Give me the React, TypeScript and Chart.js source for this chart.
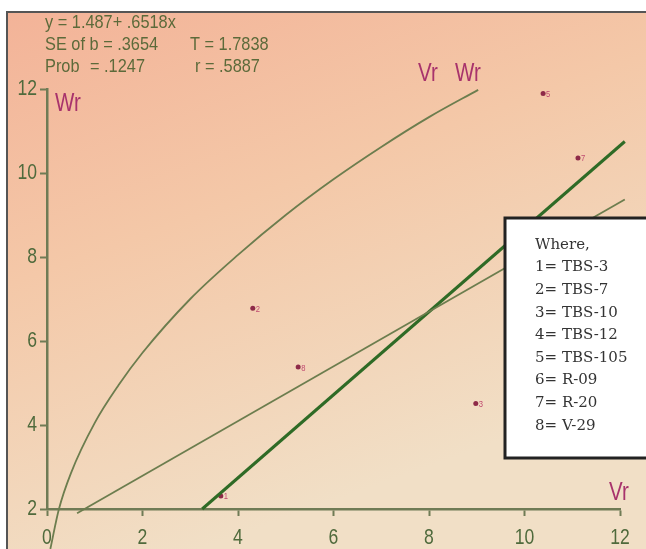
import React, { useEffect, useRef } from "react";
import { Chart, registerables } from "chart.js";

Chart.register(...registerables);

// ---- data ----
const pointIds = ["1", "2", "3", "4", "5", "6", "7", "8"];
const vrValues = [3.64, 4.31, 8.98, 10.9, 10.39, 11.6, 11.12, 5.26];
const wrValues = [2.31, 6.78, 4.51, 6.5, 11.89, 7.3, 10.36, 5.38];

const regressionVr = [0.63, 12.1];
const regressionWr = [1.9, 9.37];
const unitSlopeVr = [3.25, 12.1];
const unitSlopeWr = [2.0, 10.75];
const parabolaVr = [0.07, 0.25, 0.5, 1, 1.5, 2, 3, 4, 5, 6, 7, 8, 9.03];
const parabolaWr = [1.05, 2.0, 2.85, 4.05, 4.95, 5.72, 7.0, 8.05, 9.0, 9.85, 10.62, 11.33, 11.98];

const xMin = 0;
const xMax = 12;
const yMin = 2;
const yMax = 12;
const tickStep = 2;

const statsLine1 = "y = 1.487+ .6518x";
const statsLine2a = "SE of b = .3654";
const statsLine2b = "T = 1.7838";
const statsLine3a = "Prob";
const statsLine3b = "= .1247";
const statsLine3c = "r = .5887";

const legendTitle = "Where,";
const legendItems = [
  "1= TBS-3",
  "2= TBS-7",
  "3= TBS-10",
  "4= TBS-12",
  "5= TBS-105",
  "6= R-09",
  "7= R-20",
  "8= V-29",
];

const SANS = "'Liberation Sans', Arial, sans-serif";
const AXIS_COLOR = "#6f7b55";
const TICK_TEXT = "#4f6a3c";
const STAT_TEXT = "#5c6a3a";
const MAGENTA = "#a8336c";

const zip = (xs: number[], ys: number[]) => xs.map((x, i) => ({ x, y: ys[i] }));

// draw horizontally condensed text (reference uses a narrow face)
function narrowText(
  ctx: CanvasRenderingContext2D,
  text: string,
  x: number,
  y: number,
  squeeze: number,
  align: CanvasTextAlign = "left"
) {
  ctx.save();
  ctx.translate(x, y);
  ctx.scale(squeeze, 1);
  ctx.textAlign = align;
  ctx.fillText(text, 0, 0);
  ctx.restore();
}

const backgroundPlugin = {
  id: "bgPlugin",
  beforeDraw(chart: any) {
    const { ctx, width, height } = chart;
    ctx.save();
    ctx.fillStyle = "#ffffff";
    ctx.fillRect(0, 0, width, height);
    const g = ctx.createLinearGradient(7, 12, 200, height);
    g.addColorStop(0, "#f3b398");
    g.addColorStop(0.45, "#f4c8a8");
    g.addColorStop(1, "#f1dfc6");
    ctx.fillStyle = g;
    ctx.fillRect(7, 12, width - 7, height - 12);
    ctx.strokeStyle = "#555555";
    ctx.lineWidth = 2;
    ctx.beginPath();
    ctx.moveTo(7, height);
    ctx.lineTo(7, 12);
    ctx.lineTo(width, 12);
    ctx.stroke();
    ctx.restore();
  },
};

const overlayPlugin = {
  id: "overlayPlugin",
  afterDraw(chart: any) {
    const { ctx } = chart;
    ctx.save();

    // tick labels, placed by the chart's own scales
    const xs = chart.scales.x;
    const ys = chart.scales.y;
    ctx.fillStyle = TICK_TEXT;
    ctx.font = `22px ${SANS}`;
    ctx.textBaseline = "middle";
    xs.ticks.forEach((t: any) => {
      const px = xs.getPixelForValue(t.value);
      narrowText(ctx, String(t.value), px, 538, 0.8, "center");
    });
    ys.ticks.forEach((t: any) => {
      const py = ys.getPixelForValue(t.value);
      narrowText(ctx, String(t.value), 37, py, 0.8, "right");
    });

    // point number labels
    const meta = chart.getDatasetMeta(3);
    ctx.fillStyle = "#c04a70";
    ctx.font = `9px ${SANS}`;
    ctx.textBaseline = "middle";
    meta.data.forEach((el: any, i: number) => {
      narrowText(ctx, pointIds[i], el.x + 3, el.y + 1, 0.85);
    });

    // stats text
    ctx.fillStyle = STAT_TEXT;
    ctx.font = `19px ${SANS}`;
    ctx.textBaseline = "alphabetic";
    narrowText(ctx, statsLine1, 45, 28, 0.86);
    narrowText(ctx, statsLine2a, 45, 50, 0.86);
    narrowText(ctx, statsLine2b, 190, 50, 0.86);
    narrowText(ctx, statsLine3a, 45, 72, 0.86);
    narrowText(ctx, statsLine3b, 90, 72, 0.86);
    narrowText(ctx, statsLine3c, 195, 72, 0.86);

    // axis names
    ctx.fillStyle = MAGENTA;
    ctx.font = `25px ${SANS}`;
    ctx.textBaseline = "middle";
    narrowText(ctx, "Wr", 55, 104, 0.82);
    narrowText(ctx, "Vr", 418, 74, 0.82);
    narrowText(ctx, "Wr", 455, 74, 0.82);
    narrowText(ctx, "Vr", 609, 493, 0.82);

    // legend box
    ctx.fillStyle = "#ffffff";
    ctx.fillRect(505, 218, 160, 240);
    ctx.strokeStyle = "#222222";
    ctx.lineWidth = 3;
    ctx.strokeRect(505, 218, 160, 240);
    ctx.fillStyle = "#333333";
    ctx.font = "15px 'DejaVu Serif', serif";
    ctx.textBaseline = "middle";
    ctx.textAlign = "left";
    ctx.fillText(legendTitle, 535, 245);
    legendItems.forEach((t, i) => {
      ctx.fillText(t, 535, 267.5 + i * 22.6);
    });
    ctx.restore();
  },
};

export default function App() {
  const canvasRef = useRef<HTMLCanvasElement | null>(null);

  useEffect(() => {
    document.body.style.margin = "0";
    const canvas = canvasRef.current;
    if (!canvas) return;
    const chart = new Chart(canvas, {
      type: "scatter",
      data: {
        datasets: [
          {
            label: "parabola",
            data: zip(parabolaVr, parabolaWr),
            showLine: true,
            borderColor: "#6c7d4e",
            borderWidth: 1.8,
            pointRadius: 0,
            cubicInterpolationMode: "monotone",
            clip: false as any,
          } as any,
          {
            label: "regression",
            data: zip(regressionVr, regressionWr),
            showLine: true,
            borderColor: "#6c7d4e",
            borderWidth: 1.8,
            pointRadius: 0,
            clip: false as any,
          } as any,
          {
            label: "unit slope",
            data: zip(unitSlopeVr, unitSlopeWr),
            showLine: true,
            borderColor: "#2f6b26",
            borderWidth: 3,
            pointRadius: 0,
            clip: false as any,
          } as any,
          {
            label: "genotypes",
            data: zip(vrValues, wrValues),
            showLine: false,
            pointRadius: 2.5,
            pointBackgroundColor: "#8e2a48",
            pointBorderColor: "#8e2a48",
            pointBorderWidth: 0,
          } as any,
        ],
      },
      options: {
        responsive: false,
        animation: false,
        events: [],
        layout: { padding: { left: 7, top: 89, right: 26, bottom: 0 } },
        plugins: {
          legend: { display: false },
          tooltip: { enabled: false },
        },
        scales: {
          x: {
            type: "linear",
            min: xMin,
            max: xMax,
            afterFit: (s: any) => {
              s.height = 40;
            },
            border: { display: true, color: AXIS_COLOR, width: 2.5 },
            grid: {
              drawOnChartArea: false,
              drawTicks: true,
              tickLength: 7,
              tickColor: AXIS_COLOR,
              tickWidth: 2,
            },
            ticks: {
              stepSize: tickStep,
              color: "rgba(0,0,0,0)",
              padding: 8,
              font: { family: SANS, size: 21 },
            },
          },
          y: {
            type: "linear",
            min: yMin,
            max: yMax,
            afterFit: (s: any) => {
              s.width = 40;
            },
            border: { display: true, color: AXIS_COLOR, width: 2.5 },
            grid: {
              drawOnChartArea: false,
              drawTicks: true,
              tickLength: 7,
              tickColor: AXIS_COLOR,
              tickWidth: 2,
            },
            ticks: {
              stepSize: tickStep,
              color: "rgba(0,0,0,0)",
              padding: 3,
              font: { family: SANS, size: 21 },
            },
          },
        },
      } as any,
      plugins: [backgroundPlugin, overlayPlugin],
    });
    return () => chart.destroy();
  }, []);

  return (
    <canvas
      ref={canvasRef}
      width={646}
      height={549}
      style={{ display: "block", width: 646, height: 549 }}
    />
  );
}
